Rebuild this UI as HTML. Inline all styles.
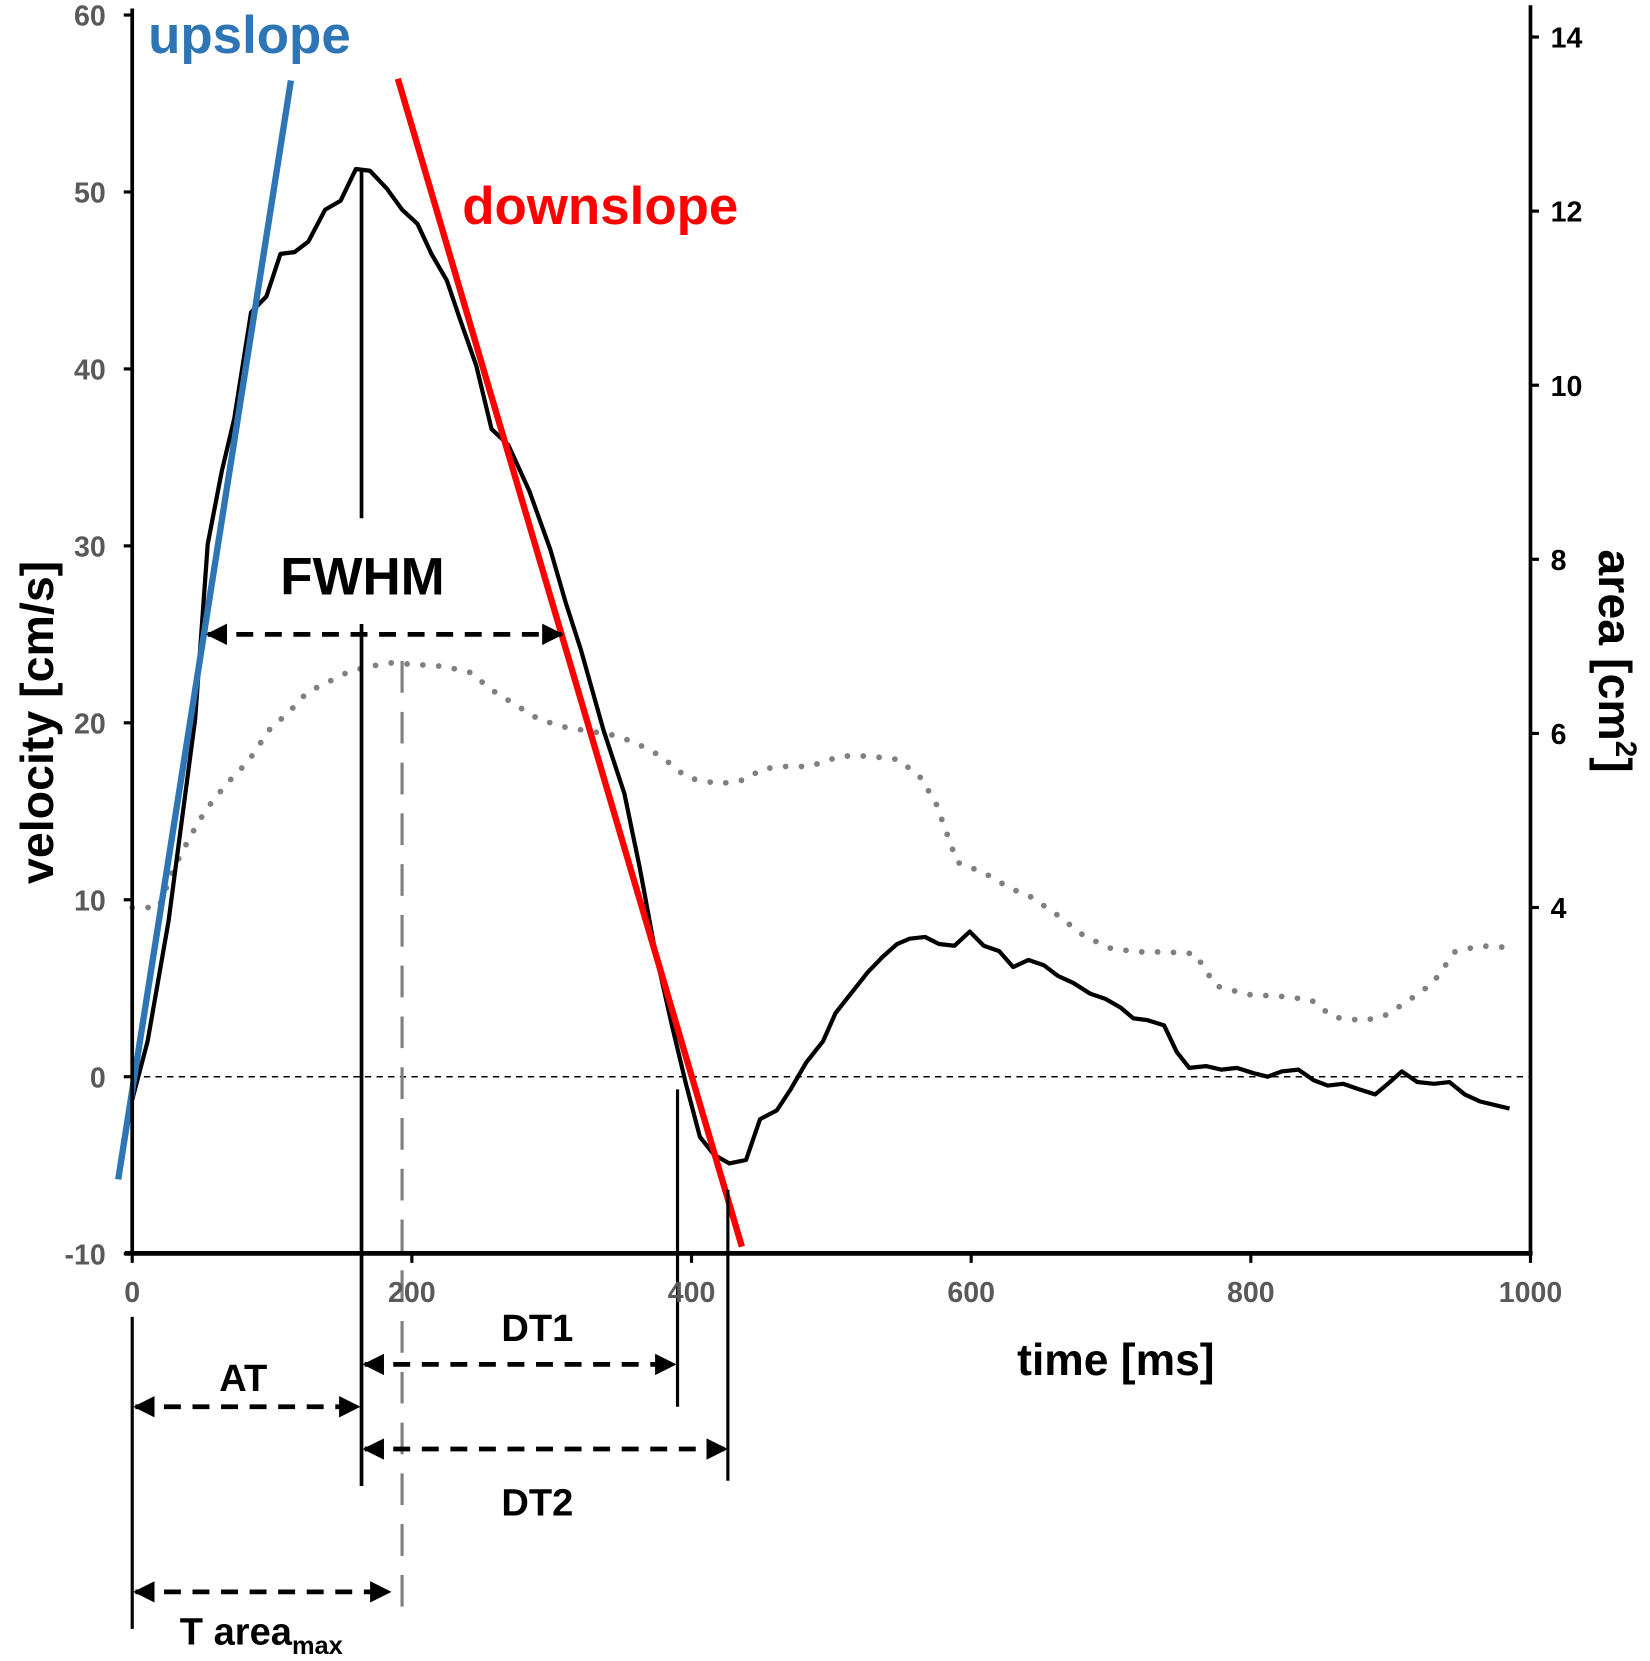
<!DOCTYPE html>
<html><head><meta charset="utf-8"><style>
html,body{margin:0;padding:0;background:#fff}
svg{display:block}
text{font-family:"Liberation Sans",sans-serif;font-weight:bold}
</style></head><body>
<svg id="chart" width="1650" height="1661" viewBox="0 0 1560 1570.4" preserveAspectRatio="none" xmlns="http://www.w3.org/2000/svg">
<defs>
<marker id="ah" viewBox="0 0 10 10" refX="9" refY="5" markerWidth="4.5" markerHeight="4.5" orient="auto-start-reverse"><path d="M0,0 L10,5 L0,10 z" fill="#000"/></marker>
</defs>
<g id="g"></g>
</svg>
<script>
const velTime=[0,11,26,45,54,64,73,85,96,106,116,126,138,149,160,170,182,193,204,214,225,234,246,257,269,284,299,310,321,337,352,363,374,386,396,406,416,427,439,449,461,471,482,494,503,514,526,537,547,556,567,577,588,599,609,620,630,641,652,662,673,685,696,707,716,726,738,747,756,768,779,790,802,812,822,834,845,855,866,877,889,898,908,919,931,942,953,964,985];
const velValues=[-1.3,2.0,8.8,20.2,30.1,34.2,37.2,43.2,44.1,46.5,46.6,47.2,49.0,49.5,51.3,51.2,50.2,49.0,48.2,46.5,45.0,42.9,40.2,36.6,35.7,33.1,29.8,26.8,24.1,19.6,16.0,11.8,7.1,2.9,-0.4,-3.4,-4.4,-4.9,-4.7,-2.4,-1.9,-0.7,0.8,2.0,3.6,4.7,5.9,6.8,7.5,7.8,7.9,7.5,7.4,8.2,7.4,7.1,6.2,6.6,6.3,5.7,5.3,4.7,4.4,3.9,3.3,3.2,2.9,1.4,0.5,0.6,0.4,0.5,0.2,0,0.3,0.4,-0.2,-0.5,-0.4,-0.7,-1.0,-0.4,0.3,-0.3,-0.4,-0.3,-1.0,-1.4,-1.8];
const areaTime=[0,19,30,42,53,68,83,98,113,125,140,155,170,185,204,223,242,257,276,291,310,329,344,359,378,397,420,439,450,465,484,507,526,548,564,575,590,609,628,643,662,681,700,719,738,760,775,798,821,843,859,881,896,911,930,946,964,985];
const areaValues=[4.0,4.0,4.46,4.83,5.13,5.43,5.68,6.04,6.26,6.47,6.59,6.71,6.77,6.81,6.79,6.77,6.70,6.50,6.31,6.16,6.07,6.02,5.98,5.90,5.74,5.49,5.42,5.47,5.59,5.62,5.62,5.74,5.74,5.70,5.49,5.19,4.52,4.40,4.22,4.12,3.91,3.67,3.53,3.49,3.49,3.47,3.10,3.00,2.98,2.94,2.74,2.70,2.76,2.91,3.13,3.49,3.56,3.54];
const xTicks=[0,200,400,600,800,1000];
const yTicks=[-10,0,10,20,30,40,50,60];
const areaTicks=[4,6,8,10,12,14];
const upslope=[[-10,-5.8],[113.5,56.3]];
const downslope=[[190,56.4],[436,-9.6]];
const tPeak=164, tAreaMax=193, tDT1=390, tDT2=426, tHalfL=51, tHalfR=310, vHalf=25;

const X=t=>125+t*1.322;
const Y=v=>1018-v*16.73;
const YA=a=>858-(a-4)*82.3;
const g=document.getElementById('g');
const NS='http://www.w3.org/2000/svg';
function el(tag,attrs,txt){const e=document.createElementNS(NS,tag);for(const k in attrs)e.setAttribute(k,attrs[k]);if(txt!==undefined)e.textContent=txt;g.appendChild(e);return e;}
function line(x1,y1,x2,y2,st,w,dash){return el('line',{x1,y1,x2,y2,stroke:st,'stroke-width':w,'stroke-dasharray':dash||'none'});}

let e=line(X(0),Y(0),X(1000),Y(0),'#000',1.5,'6,5');



let pts=areaTime.map((t,i)=>X(t)+','+YA(areaValues[i])).join(' ');
e=el('polyline',{points:pts,fill:'none',stroke:'#808080','stroke-width':5.5,'stroke-dasharray':'0,15','stroke-linecap':'round'});



pts=velTime.map((t,i)=>X(t)+','+Y(velValues[i])).join(' ');
e=el('polyline',{points:pts,fill:'none',stroke:'#000','stroke-width':4,'stroke-linejoin':'round'});



e=line(X(upslope[0][0]),Y(upslope[0][1]),X(upslope[1][0]),Y(upslope[1][1]),'#2e75b6',6);


e=line(X(downslope[0][0]),Y(downslope[0][1]),X(downslope[1][0]),Y(downslope[1][1]),'#ff0000',6);



e=line(X(tPeak),162,X(tPeak),490,'#000',3.5);


e=line(X(tPeak),590,X(tPeak),1405,'#000',3.5);


e=line(X(tAreaMax),625,X(tAreaMax),1520,'#808080',3,'30,18');


e=line(X(0),1245,X(0),1540,'#000',3);


e=line(X(tDT1),1030,X(tDT1),1330,'#000',3);


e=line(X(tDT2),1125,X(tDT2),1400,'#000',3);



function arrow(x1,x2,y,name){const a=el('line',{x1,y1:y,x2,y2:y,stroke:'#000','stroke-width':4.5,'stroke-dasharray':'16,11','marker-start':'url(#ah)','marker-end':'url(#ah)'});}
arrow(X(tHalfL)+4,X(tHalfR)-4,Y(vHalf)+0,'fwhm-arrow');
arrow(X(tPeak)+3,X(tDT1)-3,1290,'dt1-arrow');
arrow(X(0)+3,X(tPeak)-3,1330,'at-arrow');
arrow(X(tPeak)+3,X(tDT2)-2,1370,'dt2-arrow');
arrow(X(0)+3,X(tAreaMax)-12,1505,'t-area-max-arrow');

e=line(125,8,125,1187,'#000',3.5);


e=line(1447,5,1447,1187,'#000',3.5);


e=line(118,1185,1449,1185,'#000',4.5);



yTicks.forEach(v=>{line(117,Y(v),125,Y(v),'#000',3);
 const t=el('text',{x:100,y:Y(v)+10,'text-anchor':'end','font-size':27,fill:'#595959'},String(v));
 
 });
xTicks.forEach(v=>{line(X(v),1185,X(v),1194,'#000',3);
 const t=el('text',{x:X(v),y:1231,'text-anchor':'middle','font-size':27,fill:'#595959'},String(v));
 
 });
areaTicks.forEach(v=>{line(1447,YA(v),1455,YA(v),'#000',3);
 const t=el('text',{x:1466,y:YA(v)+10,'font-size':27,fill:'#000'},String(v));
 
 });
</script>
<svg width="1650" height="1661" viewBox="0 0 1560 1570.4" preserveAspectRatio="none" style="position:absolute;left:0;top:0" xmlns="http://www.w3.org/2000/svg">
<text x="140" y="50" font-size="50" fill="#2e75b6" style="font-family:'Liberation Sans',sans-serif;font-weight:bold">upslope</text>
<text x="437" y="212" font-size="50" fill="#ff0000" style="font-family:'Liberation Sans',sans-serif;font-weight:bold">downslope</text>
<text x="265" y="562" font-size="50" fill="#000" style="font-family:'Liberation Sans',sans-serif;font-weight:bold">FWHM</text>
<text transform="translate(50,683) rotate(-90)" text-anchor="middle" font-size="44" fill="#000" style="font-family:'Liberation Sans',sans-serif;font-weight:bold">velocity [cm/s]</text>
<text transform="translate(1512,625) rotate(90)" text-anchor="middle" font-size="44" fill="#000" style="font-family:'Liberation Sans',sans-serif;font-weight:bold">area [cm<tspan font-size="28" dy="-16">2</tspan><tspan dy="16">]</tspan></text>
<text x="1055" y="1300" text-anchor="middle" font-size="42" fill="#000" style="font-family:'Liberation Sans',sans-serif;font-weight:bold">time [ms]</text>
<text x="508" y="1268" text-anchor="middle" font-size="36" fill="#000" style="font-family:'Liberation Sans',sans-serif;font-weight:bold">DT1</text>
<text x="230" y="1315" text-anchor="middle" font-size="36" fill="#000" style="font-family:'Liberation Sans',sans-serif;font-weight:bold">AT</text>
<text x="508" y="1433" text-anchor="middle" font-size="36" fill="#000" style="font-family:'Liberation Sans',sans-serif;font-weight:bold">DT2</text>
<text x="170" y="1555" font-size="36" fill="#000" style="font-family:'Liberation Sans',sans-serif;font-weight:bold">T area<tspan font-size="24" dy="9">max</tspan></text>
</svg>
</body></html>
